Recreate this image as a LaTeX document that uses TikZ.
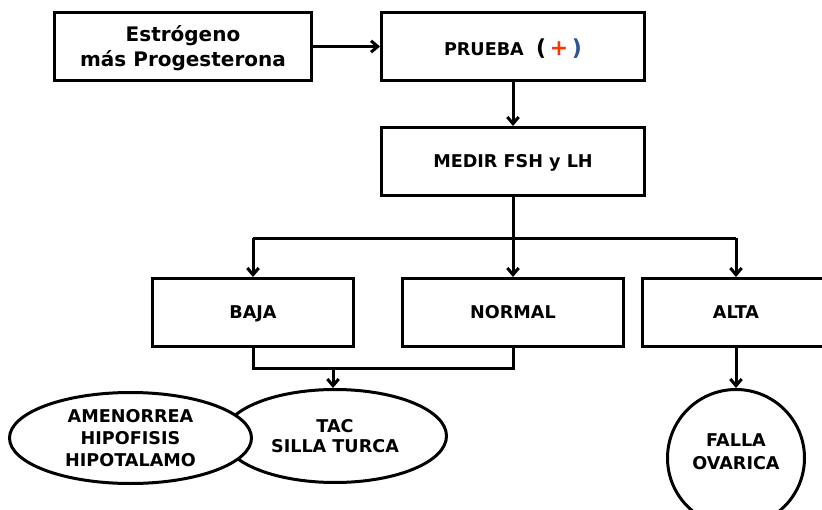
\documentclass[tikz,border=0pt]{standalone}
\usepackage{fontspec}
\setmainfont{DejaVu Sans}
\usetikzlibrary{arrows.meta,shapes.geometric}
\definecolor{plusred}{RGB}{255,51,0}
\definecolor{parblue}{RGB}{47,85,151}
\begin{document}
\begin{tikzpicture}[x=0.75pt,y=-0.75pt,
  line width=2.25pt,
  lbl/.style={font=\bfseries\fontsize{13.2}{16.5}\selectfont, align=center},
  box/.style={lbl, draw, fill=white, inner sep=0pt, minimum height=51pt},
  oneline/.style={text height=9.6pt, text depth=0pt},
  oval/.style={lbl, draw, fill=white, ellipse, inner sep=0pt},
  arr/.style={-{Straight Barb[length=5pt,width=8.5pt]}}]
\useasboundingbox (0,0) rectangle (822,510);
\clip (0,0) rectangle (822,510);

% top row
\node[box, minimum width=192.75pt,
  label={[lbl, font=\bfseries\fontsize{15}{18.75}\selectfont, yshift=-1.5pt]center:Estrógeno\\más Progesterona}]
  (e) at (183,46.5) {};
\node[box, text height=13.5pt, text depth=0pt, minimum width=197.25pt] (p) at (513,46.5)
  {PRUEBA\ \ {\fontsize{16.5}{18}\selectfont(\,\textcolor{plusred}{+}\,\textcolor{parblue}{)}}};
\node[box, oneline, minimum width=197.25pt] (m) at (513,161.5) {MEDIR FSH y LH};

% result row
\node[box, oneline, minimum width=150.75pt] (baja) at (253,312.5) {BAJA};
\node[box, oneline, minimum width=165.75pt] (normal) at (513,312.5) {NORMAL};
\node[box, oneline, minimum width=141pt] (alta) at (736,312.5) {ALTA};

% outcomes
\node[oval, minimum width=167.25pt, minimum height=69.75pt, font=\bfseries\fontsize{13.2}{15.5}\selectfont]
  (tac) at (335,436) {TAC\\SILLA TURCA};
\node[oval, minimum width=181.5pt, minimum height=68.25pt]
  (amen) at (130.5,438) {AMENORREA\\HIPOFISIS\\HIPOTALAMO};
\node[oval, minimum width=102.75pt, minimum height=102.75pt,
  label={[lbl, font=\bfseries\fontsize{13.2}{17}\selectfont, yshift=4.5pt]center:FALLA\\OVARICA}]
  (falla) at (736,458) {};

% connectors
\draw[arr] (e.east) -- (p.west);
\draw[arr] (p.south) -- (m.north);
\draw[arr] (m.south) -- (normal.north);
\coordinate (jl) at (253,238);
\coordinate (jr) at (736,238);
\draw (jl) -- (jr);
\draw[arr] (jl) -- (baja.north);
\draw[arr] (jr) -- (alta.north);
\coordinate (mid) at (333,368);
\draw (baja.south) |- (mid) -| (normal.south);
\draw[arr] (mid) -- (mid |- tac.north);
\draw[arr] (alta.south) -- (falla.north);
\end{tikzpicture}
\end{document}
